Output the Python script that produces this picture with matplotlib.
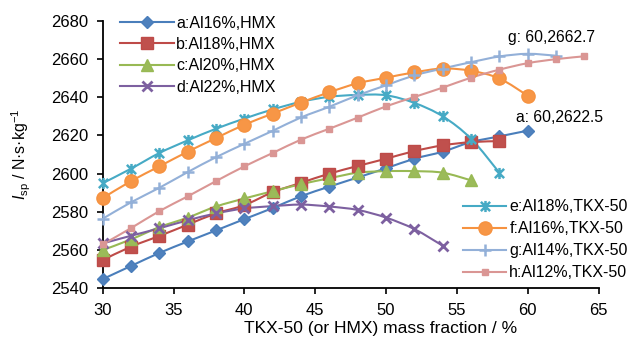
import matplotlib
matplotlib.use("Agg")
import matplotlib.pyplot as plt
from matplotlib.path import Path
from matplotlib.patches import PathPatch
from matplotlib.lines import Line2D
import numpy as np

plt.rcParams['font.family'] = ['Liberation Sans', 'DejaVu Sans']
plt.rcParams['mathtext.fontset'] = 'custom'
plt.rcParams['mathtext.rm'] = 'Liberation Sans'
plt.rcParams['mathtext.it'] = 'Liberation Sans:italic'

# ---- data ----
x_a = [30, 32, 34, 36, 38, 40, 42, 44, 46, 48, 50, 52, 54, 56, 58, 60]
y_a = [2544.8, 2551.7, 2558.5, 2564.5, 2570.3, 2576.2, 2582.0, 2588.2, 2593.2, 2598.0,
       2602.8, 2607.8, 2611.5, 2616.5, 2619.5, 2622.5]
x_b = [30, 32, 34, 36, 38, 40, 42, 44, 46, 48, 50, 52, 54, 56, 58]
y_b = [2554.8, 2561.8, 2567.4, 2573.3, 2579.2, 2583.5, 2590.3, 2595.2, 2600.0, 2604.0,
       2607.8, 2611.8, 2614.8, 2616.5, 2617.0]
x_c = [30, 32, 34, 36, 38, 40, 42, 44, 46, 48, 50, 52, 54, 56]
y_c = [2560.0, 2565.6, 2572.0, 2577.0, 2582.8, 2587.0, 2590.8, 2594.5, 2597.6, 2600.5,
       2601.3, 2601.3, 2600.5, 2596.5]
x_d = [30, 32, 34, 36, 38, 40, 42, 44, 46, 48, 50, 52, 54]
y_d = [2563.5, 2567.5, 2571.4, 2575.6, 2579.2, 2581.8, 2583.0, 2583.8, 2582.8, 2581.0,
       2577.0, 2571.0, 2562.3]
x_e = [30, 32, 34, 36, 38, 40, 42, 44, 46, 48, 50, 52, 54, 56, 58]
y_e = [2595.0, 2602.6, 2610.8, 2617.4, 2623.5, 2628.8, 2633.6, 2637.6, 2640.2, 2641.2,
       2641.0, 2637.0, 2630.0, 2618.3, 2600.5]
x_f = [30, 32, 34, 36, 38, 40, 42, 44, 46, 48, 50, 52, 54, 56, 58, 60]
y_f = [2587.2, 2596.1, 2603.8, 2611.5, 2618.6, 2625.6, 2631.4, 2637.2, 2642.6, 2647.3,
       2650.2, 2653.0, 2655.0, 2653.8, 2649.8, 2640.8]
x_g = [30, 32, 34, 36, 38, 40, 42, 44, 46, 48, 50, 52, 54, 56, 58, 60, 62]
y_g = [2576.4, 2585.0, 2592.6, 2600.8, 2608.6, 2615.6, 2622.4, 2629.4, 2635.0, 2641.0,
       2646.2, 2651.4, 2655.0, 2658.3, 2661.3, 2662.7, 2661.7]
x_h = [30, 32, 34, 36, 38, 40, 42, 44, 46, 48, 50, 52, 54, 56, 58, 60, 62, 64]
y_h = [2563.0, 2571.5, 2580.4, 2588.1, 2596.1, 2603.8, 2610.8, 2617.8, 2623.5, 2629.3,
       2635.2, 2640.1, 2645.0, 2650.2, 2654.4, 2657.8, 2659.9, 2661.4]

labels = ['a:Al16%,HMX', 'b:Al18%,HMX', 'c:Al20%,HMX', 'd:Al22%,HMX',
          'e:Al18%,TKX-50', 'f:Al16%,TKX-50', 'g:Al14%,TKX-50', 'h:Al12%,TKX-50']
x_ticks = [30, 35, 40, 45, 50, 55, 60, 65]
y_ticks = [2540, 2560, 2580, 2600, 2620, 2640, 2660, 2680]

# custom asterisk marker (x plus vertical bar)
star_path = Path([(-1, -1), (1, 1), (-1, 1), (1, -1), (0, -1.2), (0, 1.2)],
                 [Path.MOVETO, Path.LINETO, Path.MOVETO, Path.LINETO, Path.MOVETO, Path.LINETO])

styles = [
    dict(color='#4A7EBB', marker='D', ms=6.5, mec='#4A7EBB', mfc='#4F81BD', lw=1.5),
    dict(color='#BE4B48', marker='s', ms=8, mec='#BE4B48', mfc='#C0504D', lw=1.5),
    dict(color='#98B954', marker='^', ms=8.5, mec='#98B954', mfc='#9BBB59', lw=1.5),
    dict(color='#7D60A0', marker='x', ms=7.5, mec='#7D60A0', mfc='#7D60A0', lw=1.5, mew=2.0),
    dict(color='#46AAC5', marker=star_path, ms=8, mec='#46AAC5', mfc='none', lw=1.5, mew=1.8),
    dict(color='#F69240', marker='o', ms=9.5, mec='#F69240', mfc='#F79646', lw=1.5),
    dict(color='#93B0D8', marker='+', ms=9, mec='#93B0D8', mfc='#93B0D8', lw=1.5, mew=1.8),
    dict(color='#DA9694', marker='s', ms=3.8, mec='#DA9694', mfc='#DA9694', lw=1.5),
]

series = [(x_a, y_a), (x_b, y_b), (x_c, y_c), (x_d, y_d),
          (x_e, y_e), (x_f, y_f), (x_g, y_g), (x_h, y_h)]

fig = plt.figure(figsize=(6.3, 3.4), dpi=100)
ax = fig.add_axes([0.163, 0.152, 0.787, 0.787])


def smooth_path(xs, ys):
    p = np.column_stack([xs, ys]).astype(float)
    n = len(p)
    verts = [p[0]]
    codes = [Path.MOVETO]
    for i in range(n - 1):
        p0 = p[i - 1] if i > 0 else p[i]
        p1 = p[i]
        p2 = p[i + 1]
        p3 = p[i + 2] if i + 2 < n else p[i + 1]
        c1 = p1 + (p2 - p0) / 6.0
        c2 = p2 - (p3 - p1) / 6.0
        verts += [c1, c2, p2]
        codes += [Path.CURVE4] * 3
    return Path(verts, codes)


handles = []
for (xs, ys), st, lab in zip(series, styles, labels):
    patch = PathPatch(smooth_path(xs, ys), facecolor='none', edgecolor=st['color'],
                      lw=st['lw'], transform=ax.transData, zorder=2)
    ax.add_patch(patch)
    ax.plot(xs, ys, linestyle='none', marker=st['marker'], ms=st['ms'],
            mec=st['mec'], mfc=st['mfc'], mew=st.get('mew', 1.0), zorder=3, clip_on=False)
    h = Line2D([], [], color=st['color'], lw=st['lw'], marker=st['marker'], ms=st['ms'],
               mec=st['mec'], mfc=st['mfc'], mew=st.get('mew', 1.0))
    handles.append(h)

ax.set_xlim(30, 65)
ax.set_ylim(2540, 2680)
ax.set_xticks(x_ticks)
ax.set_yticks(y_ticks)
ax.tick_params(axis='both', labelsize=12, direction='out', length=4.5, width=1.2,
               colors='black', pad=6)
for s in ['top', 'right']:
    ax.spines[s].set_visible(False)
for s in ['left', 'bottom']:
    ax.spines[s].set_linewidth(1.3)

ax.set_xlabel('TKX-50 (or HMX) mass fraction / %', fontsize=12.5)
ax.xaxis.set_label_coords(0.56, -0.122)
ax.set_ylabel(r'$I_{\rm sp}$ / N·s·kg$^{-1}$', fontsize=11.5)
ax.yaxis.set_label_coords(-0.14, 0.5)

leg1 = ax.legend(handles[:4], labels[:4], loc='upper left', bbox_to_anchor=(0.015, 1.055),
                 frameon=False, fontsize=11.5, handlelength=3.4, handletextpad=0.12,
                 labelspacing=0.4, borderaxespad=0.2)
ax.add_artist(leg1)
ax.legend(handles[4:], labels[4:], loc='lower right', bbox_to_anchor=(1.075, 0.0),
          frameon=False, fontsize=11.5, handlelength=2.65, handletextpad=0.22,
          labelspacing=0.44, borderaxespad=0.1)

ax.annotate('g: 60,2662.7', xy=(60, 2662.7), xytext=(58.6, 2667.5), fontsize=11.3,
            ha='left', va='bottom')
ax.annotate('a: 60,2622.5', xy=(60, 2622.5), xytext=(59.2, 2625.5), fontsize=11.3,
            ha='left', va='bottom')

fig.savefig('out.png', dpi=100)
